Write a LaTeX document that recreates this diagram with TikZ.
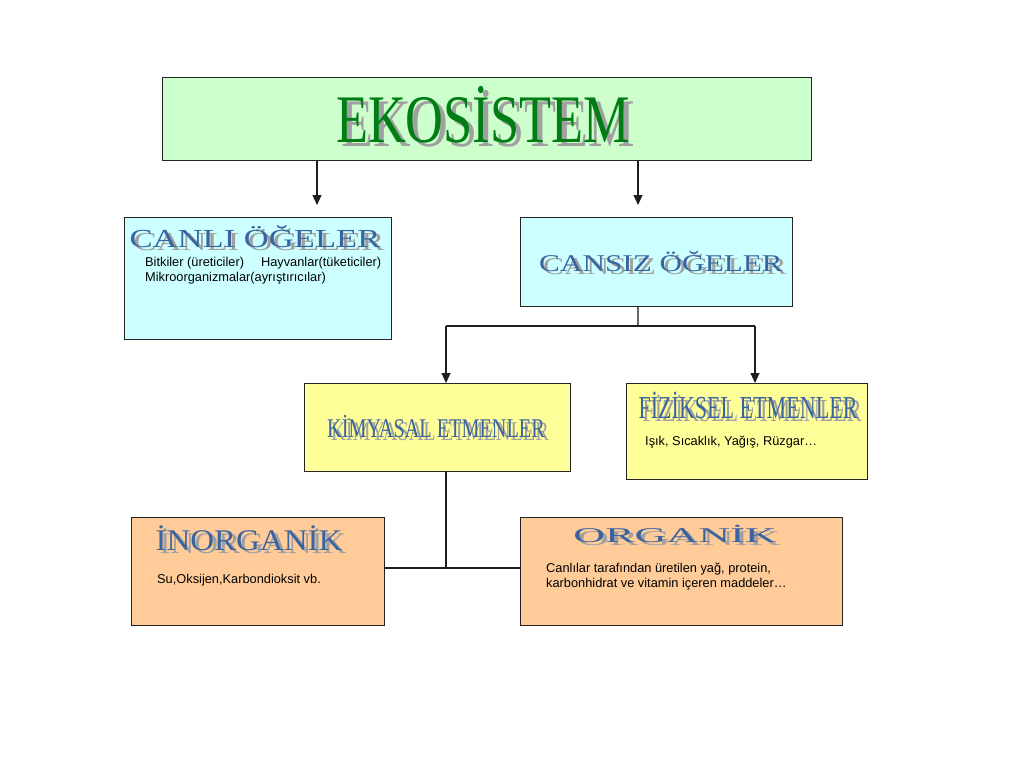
\documentclass[tikz,border=0pt]{standalone}
\usepackage{fontspec}
\setmainfont{Liberation Serif}
\setsansfont{Liberation Sans}
\usetikzlibrary{arrows.meta}
\definecolor{gbox}{RGB}{204,255,204}
\definecolor{cbox}{RGB}{204,255,255}
\definecolor{ybox}{RGB}{255,255,153}
\definecolor{obox}{RGB}{255,204,153}
\definecolor{bord}{RGB}{35,35,35}
\definecolor{artblue}{RGB}{58,100,160}
\definecolor{artshadow}{RGB}{160,160,160}
\definecolor{artgreen}{RGB}{0,125,20}
\definecolor{connline}{RGB}{30,30,30}
\begin{document}
\begin{tikzpicture}[x=1pt,y=-1pt,
  box/.style={draw=bord,line width=1.2pt,inner sep=0pt,anchor=north west},
  art/.style={inner sep=0pt,anchor=base,font=\rmfamily,text=artblue},
  artsh/.style={inner sep=0pt,anchor=base,font=\rmfamily,text=artshadow},
  body/.style={inner sep=0pt,anchor=base west,font=\sffamily\fontsize{12.8}{15}\selectfont,align=left},
  conn/.style={draw=connline,line width=1.1pt},
  arr/.style={conn,-{Triangle[length=10pt,width=9pt]}}]
\useasboundingbox[fill=white] (0,0) rectangle (1024,768);
% boxes
\node[box,fill=gbox,minimum width=649pt,minimum height=83pt] (eko) at (162,77) {};
\node[box,fill=cbox,minimum width=267pt,minimum height=122pt] (canli) at (124,217) {};
\node[box,fill=cbox,minimum width=272pt,minimum height=89pt] (cansiz) at (520,217) {};
\node[box,fill=ybox,minimum width=266pt,minimum height=88pt] (kimya) at (304,383) {};
\node[box,fill=ybox,minimum width=241pt,minimum height=96pt] (fizik) at (626,383) {};
\node[box,fill=obox,minimum width=253pt,minimum height=108pt] (inorg) at (131,517) {};
\node[box,fill=obox,minimum width=322pt,minimum height=108pt] (org) at (520,517) {};
% connectors
\coordinate (a1) at (317,205);
\coordinate (a2) at (638,205);
\draw[arr] (a1 |- eko.south) -- (a1);
\draw[arr] (a2 |- eko.south) -- (a2);
\coordinate (j1) at (638,326);
\coordinate (k1) at (446,326);
\coordinate (f1) at (755,326);
\draw[conn,draw=gray!80!black] (cansiz.south -| j1) -- (j1);
\draw[conn] (k1) -- (f1);
\draw[arr] (k1) -- (k1 |- kimya.north);
\draw[arr] (f1) -- (f1 |- fizik.north);
\coordinate (b1) at (446,568);
\draw[conn] (kimya.south -| b1) -- (b1);
\draw[conn] (inorg.east |- b1) -- (org.west |- b1);
% titles
\node[artsh] (ekoS) at (488,146) {\scalebox{0.77}[1]{\fontsize{68}{68}\selectfont EKOSİSTEM}};
\node[art,text=artgreen] (ekoT) at (483,142) {\scalebox{0.77}[1]{\fontsize{68}{68}\selectfont EKOSİSTEM}};
\node[artsh] (canliS) at (259,250) {\scalebox{1.33}[1]{\fontsize{26}{26}\selectfont CANLI ÖĞELER}};
\node[art] (canliT) at (255,247) {\scalebox{1.33}[1]{\fontsize{26}{26}\selectfont CANLI ÖĞELER}};
\node[artsh] (cansizS) at (665,274) {\scalebox{1.3}[1]{\fontsize{24}{24}\selectfont CANSIZ ÖĞELER}};
\node[art] (cansizT) at (661,271) {\scalebox{1.3}[1]{\fontsize{24}{24}\selectfont CANSIZ ÖĞELER}};
\node[artsh] (kimyaS) at (440,440) {\scalebox{0.75}[1]{\fontsize{27}{27}\selectfont KİMYASAL ETMENLER}};
\node[art] (kimyaT) at (436,437) {\scalebox{0.75}[1]{\fontsize{27}{27}\selectfont KİMYASAL ETMENLER}};
\node[artsh] (fizikS) at (752,421) {\scalebox{0.69}[1]{\fontsize{32}{32}\selectfont FİZİKSEL ETMENLER}};
\node[art] (fizikT) at (748,418) {\scalebox{0.69}[1]{\fontsize{32}{32}\selectfont FİZİKSEL ETMENLER}};
\node[artsh] (inorgS) at (253,553) {\scalebox{1.1}[1]{\fontsize{30}{30}\selectfont İNORGANİK}};
\node[art] (inorgT) at (249,550) {\scalebox{1.1}[1]{\fontsize{30}{30}\selectfont İNORGANİK}};
\node[artsh] (orgS) at (679,545) {\scalebox{2.1}[1]{\fontsize{21}{21}\selectfont ORGANİK}};
\node[art] (orgT) at (675,542) {\scalebox{2.1}[1]{\fontsize{21}{21}\selectfont ORGANİK}};
% body texts
\node[body] (canliB1) at (145,266) {Bitkiler (üreticiler)\hspace{17pt}Hayvanlar(tüketiciler)};
\node[body] (canliB2) at (145,281) {Mikroorganizmalar(ayrıştırıcılar)};
\node[body] (fizikB) at (645,445) {Işık, Sıcaklık, Yağış, Rüzgar…};
\node[body] (inorgB) at (157,583) {Su,Oksijen,Karbondioksit vb.};
\node[body] (orgB1) at (546,572) {Canlılar tarafından üretilen yağ, protein,};
\node[body] (orgB2) at (546,587) {karbonhidrat ve vitamin içeren maddeler…};
\end{tikzpicture}
\end{document}
